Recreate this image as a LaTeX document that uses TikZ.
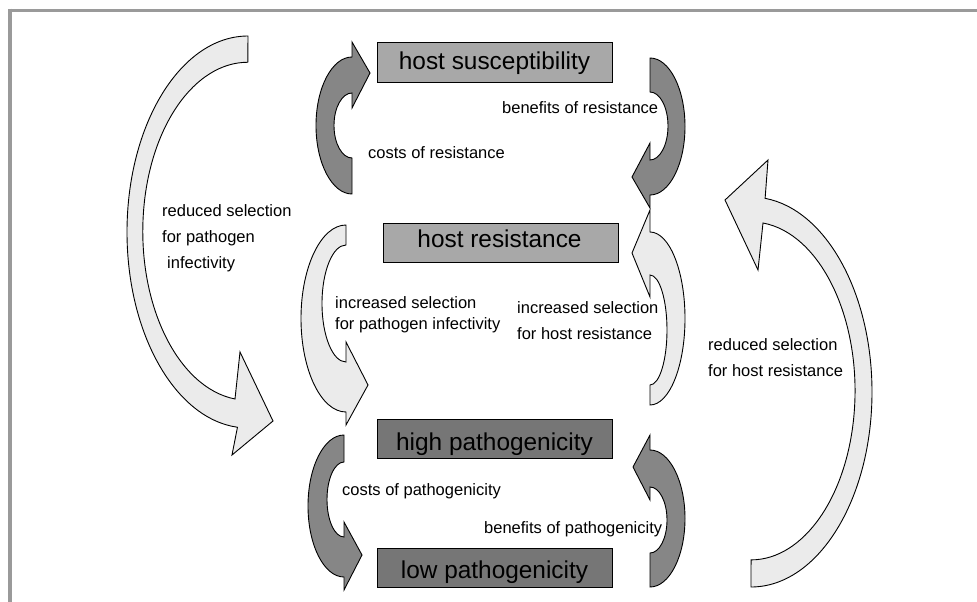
\documentclass[tikz,border=0pt]{standalone}
\usepackage{fontspec}
\setmainfont{Liberation Sans}
\definecolor{framegray}{HTML}{9A9A9A}
\definecolor{darkarrow}{HTML}{868686}
\definecolor{lightarrow}{HTML}{EBEBEB}
\definecolor{boxlightfill}{HTML}{A8A8A8}
\definecolor{boxdarkfill}{HTML}{767676}
\begin{document}
\begin{tikzpicture}[x=1pt,y=-1pt,
  darkarr/.style={draw=black, line width=0.9pt, fill=darkarrow, line join=miter},
  lightarr/.style={draw=black, line width=0.9pt, fill=lightarrow, line join=miter},
  boxbase/.style={draw=black, line width=1pt, minimum width=235pt, minimum height=39pt, inner sep=0pt},
  boxlight/.style={boxbase, fill=boxlightfill},
  boxdark/.style={boxbase, fill=boxdarkfill},
  boxtxt/.style={anchor=base, inner sep=0pt, font=\fontsize{24.4}{28}\selectfont},
  lbl/.style={anchor=base west, inner sep=0pt, font=\fontsize{16.5}{19}\selectfont}
]
\useasboundingbox (0,0) rectangle (977,602);
\fill[white] (0,0) rectangle (977,602);
% frame
\draw[framegray, line width=3.5pt] (8.25,10.5) -- (977,10.5);
\draw[framegray, line width=3.5pt] (10,8.75) -- (10,602);

% A: costs of resistance (top-left, dark)
\draw[darkarr] (352,194) arc[start angle=90, end angle=270, x radius=36, y radius=68.5]
  -- (352,42) -- (370,73) -- (352,108) -- (352,93)
  arc[start angle=270, end angle=90, x radius=18, y radius=32.5] -- cycle;
% B: benefits of resistance (top-right, dark)
\draw[darkarr] (650,58) arc[start angle=-90, end angle=90, x radius=35, y radius=68.5]
  -- (650,208) -- (632,177) -- (650,143) -- (650,160)
  arc[start angle=90, end angle=-90, x radius=18, y radius=34] -- cycle;
% C: increased selection for host resistance (right, light)
\draw[lightarr] (650,405) arc[start angle=90, end angle=-90, x radius=35, y radius=86.5]
  -- (650,210) -- (632,253) -- (650,297) -- (650,275)
  arc[start angle=-90, end angle=90, x radius=17, y radius=55] -- cycle;
% F: increased selection for pathogen infectivity (left, light)
\draw[lightarr] (346,225) arc[start angle=270, end angle=90, x radius=45, y radius=93.5]
  -- (346,425) -- (368,385) -- (346,342) -- (346,362)
  arc[start angle=90, end angle=270, x radius=24, y radius=58.5] -- cycle;
% D: costs of pathogenicity (bottom-left, dark)
\draw[darkarr] (344,435) arc[start angle=270, end angle=90, x radius=36, y radius=71]
  -- (344,590) -- (362,555) -- (344,522) -- (344,537)
  arc[start angle=90, end angle=270, x radius=17, y radius=37.5] -- cycle;
% E: benefits of pathogenicity (bottom-right, dark)
\draw[darkarr] (650,587) arc[start angle=90, end angle=-90, x radius=35, y radius=68.5]
  -- (650,435) -- (633,467) -- (650,500) -- (650,487)
  arc[start angle=-90, end angle=90, x radius=17, y radius=33] -- cycle;
% G: reduced selection for pathogen infectivity (big left, light)
\draw[lightarr] (248,36) arc[start angle=270, end angle=95, x radius=121, y radius=196]
  -- (232,455) -- (273,421) -- (240,352) -- (235,399)
  arc[start angle=97, end angle=270, x radius=105, y radius=169] -- cycle;
% H: reduced selection for host resistance (big right, light)
\draw[lightarr] (751,587) arc[start angle=90, end angle=-83.3, x radius=121, y radius=195]
  -- (768,160) -- (725,200) -- (758,270) -- (763,223)
  arc[start angle=-83.4, end angle=90, x radius=104, y radius=169] -- cycle;

% boxes
\node[boxlight] (hs) at (494.5,62.5) {};
\node[boxtxt] (hstxt) at (494.5,69.3) {host susceptibility};
\node[boxlight] (hr) at (500.5,242.5) {};
\node[boxtxt] (hrtxt) at (499.5,247.8) {host resistance};
\node[boxdark] (hp) at (494.5,439) {};
\node[boxtxt] (hptxt) at (494.5,450.5) {high pathogenicity};
\node[boxdark] (lp) at (494.5,568) {};
\node[boxtxt] (lptxt) at (494.5,578) {low pathogenicity};

% labels
\node[lbl] (l1) at (368,158) {costs of resistance};
\node[lbl] (l2) at (502,113.5) {benefits of resistance};
\node[lbl] (l3) at (335,308) {increased selection};
\node[lbl] (l4) at (335,329) {for pathogen infectivity};
\node[lbl] (l5) at (517,313.5) {increased selection};
\node[lbl] (l6) at (517,339) {for host resistance};
\node[lbl] (l7) at (342,495) {costs of pathogenicity};
\node[lbl] (l8) at (484,533) {benefits of pathogenicity};
\node[lbl] (l9) at (162,216) {reduced selection};
\node[lbl] (l10) at (162,242) {for pathogen};
\node[lbl] (l11) at (167,268.5) {infectivity};
\node[lbl] (l12) at (708,350) {reduced selection};
\node[lbl] (l13) at (708,376) {for host resistance};
\end{tikzpicture}
\end{document}
